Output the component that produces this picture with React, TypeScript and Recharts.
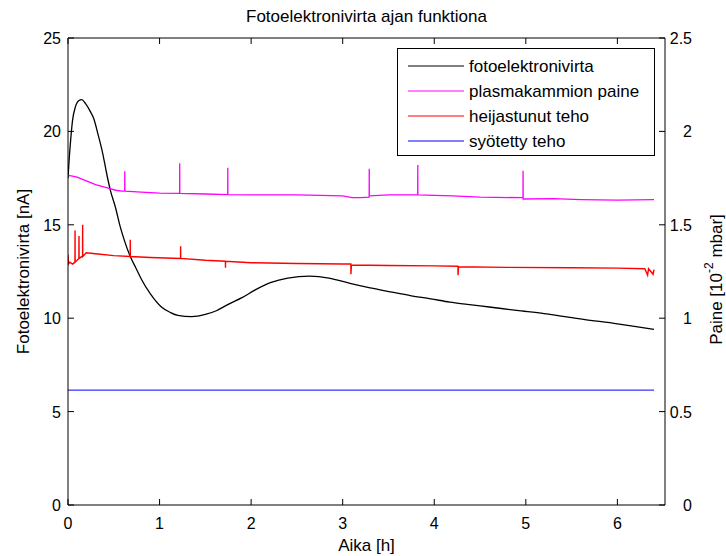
import React from 'react';
import { ComposedChart, Line, XAxis, YAxis, ReferenceLine, Legend } from 'recharts';

// ---- data ----
const xTicks = [0, 1, 2, 3, 4, 5, 6];
const leftTicks = [0, 5, 10, 15, 20, 25];
const rightTicks = [0, 0.5, 1, 1.5, 2, 2.5];

const seriesNames = ['fotoelektronivirta', 'plasmakammion paine', 'heijastunut teho', 'syötetty teho'];
const seriesColors = ['#000000', '#ff00ff', '#ff0000', '#0000ff'];

// fotoelektronivirta [nA]
const fotoT = [0, 0.01, 0.03, 0.05, 0.08, 0.12, 0.15, 0.19, 0.24, 0.28, 0.33, 0.38, 0.42, 0.46, 0.52, 0.57, 0.62, 0.68, 0.74, 0.8, 0.9, 1.02, 1.12, 1.2, 1.35, 1.5, 1.62, 1.75, 1.9, 2.04, 2.21, 2.4, 2.64, 2.85, 3.08, 3.3, 3.52, 3.75, 3.96, 4.17, 4.36, 4.6, 4.9, 5.2, 5.63, 6.0, 6.4];
const fotoV = [17.5, 18.3, 19.6, 20.6, 21.3, 21.65, 21.7, 21.5, 21.1, 20.7, 19.8, 18.8, 17.8, 16.9, 15.9, 14.9, 14.1, 13.3, 12.7, 12.1, 11.3, 10.6, 10.3, 10.15, 10.08, 10.2, 10.4, 10.74, 11.1, 11.5, 11.9, 12.15, 12.25, 12.15, 11.86, 11.62, 11.41, 11.2, 11.04, 10.86, 10.74, 10.6, 10.42, 10.25, 9.94, 9.7, 9.4];

// plasmakammion paine [10^-2 mbar]
const paineT = [0, 0.05, 0.1, 0.2, 0.3, 0.38, 0.45, 0.52, 0.59, 0.619, 0.62, 0.621, 0.8, 1.0, 1.219, 1.22, 1.221, 1.5, 1.744, 1.745, 1.746, 2.0, 2.5, 3.0, 3.1, 3.2, 3.289, 3.29, 3.291, 3.5, 3.819, 3.82, 3.821, 4.2, 4.5, 4.969, 4.97, 4.971, 5.3, 5.6, 6.0, 6.4];
const paineV = [1.765, 1.76, 1.755, 1.735, 1.715, 1.705, 1.695, 1.685, 1.68, 1.68, 1.786, 1.68, 1.675, 1.67, 1.668, 1.83, 1.668, 1.665, 1.662, 1.806, 1.662, 1.66, 1.66, 1.655, 1.645, 1.645, 1.648, 1.8, 1.655, 1.66, 1.66, 1.82, 1.66, 1.655, 1.648, 1.645, 1.79, 1.638, 1.64, 1.635, 1.632, 1.635];

// heijastunut teho
const heijT = [0, 0.005, 0.02, 0.05, 0.076, 0.077, 0.078, 0.1, 0.119, 0.12, 0.121, 0.15, 0.159, 0.16, 0.161, 0.2, 0.3, 0.5, 0.679, 0.68, 0.681, 0.9, 1.229, 1.23, 1.231, 1.5, 1.719, 1.72, 1.721, 2.0, 2.5, 3.0, 3.089, 3.09, 3.095, 3.5, 4.0, 4.259, 4.26, 4.265, 4.8, 5.5, 6.0, 6.3, 6.33, 6.34, 6.39, 6.4];
const heijV = [13.4, 12.9, 13.0, 12.9, 13.0, 14.7, 13.0, 13.1, 13.2, 14.4, 13.2, 13.3, 13.3, 15.0, 13.3, 13.5, 13.45, 13.35, 13.3, 14.2, 13.3, 13.25, 13.2, 13.85, 13.2, 13.1, 13.05, 12.7, 13.05, 12.97, 12.93, 12.9, 12.9, 12.35, 12.85, 12.82, 12.8, 12.78, 12.3, 12.75, 12.72, 12.7, 12.68, 12.65, 12.3, 12.65, 12.35, 12.6];

// syötetty teho
const syotT = [0, 6.4];
const syotV = [6.15, 6.15];

const toRows = (ts: number[], vs: number[]) => ts.map((t, i) => ({ t, v: vs[i] }));
const fotoData = toRows(fotoT, fotoV);
const paineData = toRows(paineT, paineV);
const heijData = toRows(heijT, heijV);
const syotData = toRows(syotT, syotV);

const FONT = '"Liberation Sans", Arial, Helvetica, sans-serif';
const W = 726;
const H = 556;
const PLOT_TOP = 38;
const TICK = 6;

const BottomTick = (props: any) => {
  const { x, y, payload } = props;
  return (
    <g>
      <line x1={x} x2={x} y1={y} y2={y - TICK} stroke="#000" />
      <line x1={x} x2={x} y1={PLOT_TOP} y2={PLOT_TOP + TICK} stroke="#000" />
      <text x={x} y={y + 24} textAnchor="middle" fontSize={16} fontFamily={FONT} fill="#000">
        {payload.value}
      </text>
    </g>
  );
};

const LeftTick = (props: any) => {
  const { x, y, payload } = props;
  return (
    <g>
      <line x1={x} x2={x + TICK} y1={y} y2={y} stroke="#000" />
      <text x={x - 7} y={y + 6} textAnchor="end" fontSize={16} fontFamily={FONT} fill="#000">
        {payload.value}
      </text>
    </g>
  );
};

const RightTick = (props: any) => {
  const { x, y, payload } = props;
  return (
    <g>
      <line x1={x} x2={x - TICK} y1={y} y2={y} stroke="#000" />
      <text x={x + 27} y={y + 6} textAnchor="end" fontSize={16} fontFamily={FONT} fill="#000">
        {payload.value}
      </text>
    </g>
  );
};

const LegendBox = () => (
  <div style={{ width: 256, height: 106, border: '1px solid #000', background: '#fff', boxSizing: 'content-box' }}>
    <svg width={256} height={106}>
      {seriesNames.map((name, i) => (
        <g key={name}>
          <line x1={10} x2={66} y1={17 + i * 25} y2={17 + i * 25} stroke={seriesColors[i]} strokeWidth={1.2} />
          <text x={71} y={17 + i * 25 + 6} fontSize={17} fontFamily={FONT} fill="#000">
            {name}
          </text>
        </g>
      ))}
    </svg>
  </div>
);

export default function App() {
  return (
    <div style={{ position: 'absolute', left: 0, top: 0, width: W, height: H, background: '#fff' }}>
      <div
        style={{
          position: 'absolute',
          left: 68,
          width: 597,
          top: 7,
          lineHeight: '20px',
          textAlign: 'center',
          fontFamily: FONT,
          fontSize: 17,
          color: '#000',
        }}
      >
        Fotoelektronivirta ajan funktiona
      </div>
      <ComposedChart width={W} height={H} margin={{ top: PLOT_TOP, right: 0, bottom: 0, left: 0 }}>
        <XAxis
          xAxisId="x"
          dataKey="t"
          type="number"
          domain={[0, 6.52]}
          ticks={xTicks}
          height={51}
          tickSize={0}
          tickMargin={0}
          tickLine={false}
          axisLine={{ stroke: '#000' }}
          tick={BottomTick}
          allowDataOverflow
          label={(p: any) => {
            const vb = p.viewBox || {};
            return (
              <text x={vb.x + vb.width / 2} y={551} textAnchor="middle" fontSize={17} fontFamily={FONT} fill="#000">
                Aika [h]
              </text>
            );
          }}
        />
        <YAxis
          yAxisId="left"
          type="number"
          domain={[0, 25]}
          ticks={leftTicks}
          width={68}
          tickSize={0}
          tickMargin={0}
          tickLine={false}
          axisLine={{ stroke: '#000' }}
          tick={LeftTick}
          allowDataOverflow
          label={(p: any) => {
            const vb = p.viewBox || {};
            const cy = vb.y + vb.height / 2;
            return (
              <text x={23} y={cy} transform={`rotate(-90 23 ${cy})`} textAnchor="middle" dominantBaseline="central" fontSize={17} fontFamily={FONT} fill="#000">
                Fotoelektronivirta [nA]
              </text>
            );
          }}
        />
        <YAxis
          yAxisId="right"
          orientation="right"
          type="number"
          domain={[0, 2.5]}
          ticks={rightTicks}
          width={61}
          tickSize={0}
          tickMargin={0}
          tickLine={false}
          axisLine={{ stroke: '#000' }}
          tick={RightTick}
          allowDataOverflow
          label={(p: any) => {
            const vb = p.viewBox || {};
            const cy = vb.y + vb.height / 2 + 8;
            const cx = 716;
            return (
              <text x={cx} y={cy} transform={`rotate(-90 ${cx} ${cy})`} textAnchor="middle" dominantBaseline="central" fontSize={17} fontFamily={FONT} fill="#000">
                <tspan>Paine [10</tspan>
                <tspan fontSize={12} dy={-7}>-2</tspan>
                <tspan dy={7}> mbar]</tspan>
              </text>
            );
          }}
        />
        <ReferenceLine xAxisId="x" yAxisId="left" y={25} stroke="#000" />
        <Legend
          layout="vertical"
          align="center"
          verticalAlign="middle"
          content={LegendBox}
          wrapperStyle={{ position: 'absolute', left: 397, top: 48, width: 258, height: 108 }}
        />
        <Line
          xAxisId="x"
          yAxisId="left"
          data={fotoData}
          dataKey="v"
          name={seriesNames[0]}
          type="monotone"
          stroke={seriesColors[0]}
          strokeWidth={1.3}
          dot={false}
          activeDot={false}
          isAnimationActive={false}
        />
        <Line
          xAxisId="x"
          yAxisId="right"
          data={paineData}
          dataKey="v"
          name={seriesNames[1]}
          type="linear"
          stroke={seriesColors[1]}
          strokeWidth={1.3}
          dot={false}
          activeDot={false}
          isAnimationActive={false}
        />
        <Line
          xAxisId="x"
          yAxisId="left"
          data={heijData}
          dataKey="v"
          name={seriesNames[2]}
          type="linear"
          stroke={seriesColors[2]}
          strokeWidth={1.4}
          dot={false}
          activeDot={false}
          isAnimationActive={false}
        />
        <Line
          xAxisId="x"
          yAxisId="left"
          data={syotData}
          dataKey="v"
          name={seriesNames[3]}
          type="linear"
          stroke={seriesColors[3]}
          strokeWidth={1}
          dot={false}
          activeDot={false}
          isAnimationActive={false}
        />
      </ComposedChart>
    </div>
  );
}
